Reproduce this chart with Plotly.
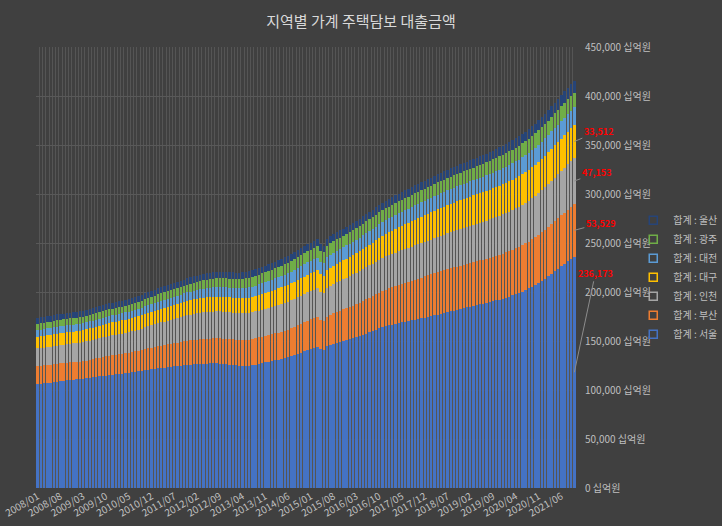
import plotly.graph_objects as go

# Monthly categories 2008/01 .. 2021/10
months = [f"{y}/{m:02d}" for y in range(2008, 2022) for m in range(1, 13)][:166]

# Values in 조원 (1,000 십억원)
seoul = [
    106.0, 106.4, 106.8, 107.2, 107.6, 108.0, 108.5, 109.0, 109.4, 109.8, 110.2, 110.5,
    110.8, 111.0, 111.4, 111.8, 112.3, 112.8, 113.3, 113.8, 114.3, 114.8, 115.2, 115.6,
    116.0, 116.4, 116.8, 117.3, 117.8, 118.3, 118.7, 119.2, 119.7, 120.2, 120.7, 121.2,
    121.6, 122.0, 122.4, 122.8, 123.2, 123.6, 124.0, 124.4, 124.8, 125.2, 125.6, 126.0,
    126.3, 126.5, 126.7, 126.9, 127.0, 127.1, 127.2, 127.2, 127.0, 126.7, 126.3, 125.9,
    125.5, 125.1, 124.8, 124.5, 124.6, 124.9, 125.4, 126.0, 126.7, 127.4, 128.1, 128.8,
    129.5, 130.3, 131.0, 131.8, 132.6, 133.4, 134.4, 135.5, 136.7, 138.0, 139.3, 140.6,
    141.6, 142.6, 143.6, 141.5, 140.8, 144.5, 146.0, 147.2, 148.3, 149.3, 150.2, 151.0,
    152.0, 153.0, 154.0, 155.2, 156.4, 157.6, 158.8, 160.0, 161.5, 163.0, 164.2, 165.2,
    166.0, 166.8, 167.6, 168.3, 169.0, 169.7, 170.4, 171.1, 171.8, 172.5, 173.2, 173.9,
    174.6, 175.4, 176.2, 177.0, 177.8, 178.6, 179.4, 180.2, 181.0, 181.8, 182.6, 183.4,
    184.2, 185.0, 185.7, 186.5, 187.3, 188.1, 188.9, 189.7, 190.5, 191.4, 192.3, 193.2,
    194.2, 195.3, 196.5, 197.8, 199.1, 200.5, 202.0, 203.6, 205.3, 207.2, 209.2, 211.3,
    213.6, 216.0, 218.5, 221.0, 223.6, 226.2, 228.8, 231.4, 233.8, 236.173]

busan = [
    18.4, 18.4, 18.3, 18.3, 18.2, 18.2, 18.2, 18.1, 18.1, 18.1, 18.0, 18.0,
    18.0, 18.0, 18.1, 18.3, 18.5, 18.7, 18.9, 19.1, 19.3, 19.5, 19.7, 19.9,
    20.0, 20.1, 20.2, 20.3, 20.4, 20.5, 20.7, 20.9, 21.1, 21.4, 21.7, 22.0,
    22.3, 22.6, 22.9, 23.1, 23.3, 23.5, 23.7, 23.9, 24.1, 24.3, 24.5, 24.7,
    24.9, 25.0, 25.1, 25.2, 25.3, 25.4, 25.5, 25.6, 25.7, 25.8, 25.9, 26.0,
    26.1, 26.2, 26.3, 26.4, 26.5, 26.6, 26.7, 26.8, 26.9, 27.0, 27.1, 27.2,
    27.3, 27.4, 27.6, 27.8, 28.0, 28.3, 28.6, 28.9, 29.2, 29.5, 29.8, 30.1,
    30.4, 30.6, 30.8, 30.0, 29.7, 30.4, 30.8, 31.1, 31.4, 31.7, 32.0, 32.4,
    32.8, 33.2, 33.6, 34.0, 34.4, 34.8, 35.2, 35.6, 36.0, 36.4, 36.8, 37.2,
    37.6, 38.0, 38.4, 38.8, 39.2, 39.6, 40.0, 40.4, 40.8, 41.2, 41.6, 42.0,
    42.3, 42.6, 42.9, 43.2, 43.4, 43.6, 43.8, 44.0, 44.1, 44.2, 44.3, 44.4,
    44.5, 44.6, 44.7, 44.8, 44.9, 45.0, 45.1, 45.2, 45.4, 45.6, 45.8, 46.0,
    46.2, 46.4, 46.6, 46.8, 47.0, 47.3, 47.6, 47.9, 48.3, 48.7, 49.1, 49.5,
    49.9, 50.3, 50.7, 51.1, 51.5, 51.9, 52.3, 52.7, 53.1, 53.529]

incheon = [
    18.0, 18.1, 18.2, 18.3, 18.4, 18.5, 18.6, 18.7, 18.8, 18.9, 19.0, 19.1,
    19.2, 19.3, 19.4, 19.5, 19.6, 19.7, 19.8, 19.9, 20.0, 20.1, 20.2, 20.3,
    20.4, 20.5, 20.6, 20.7, 20.8, 21.0, 21.3, 21.6, 21.9, 22.2, 22.5, 22.8,
    23.1, 23.4, 23.7, 24.0, 24.3, 24.6, 24.9, 25.2, 25.5, 25.8, 26.0, 26.2,
    26.4, 26.6, 26.8, 27.0, 27.2, 27.3, 27.4, 27.5, 27.5, 27.5, 27.5, 27.5,
    27.4, 27.4, 27.3, 27.3, 27.3, 27.4, 27.4, 27.5, 27.5, 27.6, 27.6, 27.7,
    27.8, 27.9, 28.0, 28.1, 28.2, 28.3, 28.4, 28.5, 28.6, 28.7, 28.8, 28.9,
    29.0, 29.2, 29.4, 28.8, 28.6, 29.3, 29.6, 29.9, 30.2, 30.5, 30.8, 31.1,
    31.4, 31.7, 32.0, 32.3, 32.6, 32.9, 33.1, 33.3, 33.5, 33.7, 33.9, 34.0,
    34.1, 34.2, 34.3, 34.4, 34.5, 34.6, 34.7, 34.8, 34.9, 35.0, 35.1, 35.2,
    35.3, 35.5, 35.7, 35.9, 36.1, 36.3, 36.5, 36.7, 36.9, 37.1, 37.3, 37.5,
    37.7, 37.9, 38.1, 38.3, 38.5, 38.7, 38.9, 39.1, 39.3, 39.5, 39.7, 39.9,
    40.1, 40.3, 40.5, 40.7, 40.9, 41.1, 41.3, 41.6, 41.9, 42.2, 42.6, 43.0,
    43.4, 43.8, 44.2, 44.6, 45.0, 45.4, 45.8, 46.3, 46.8, 47.153]

daegu = [
    11.9, 11.9, 12.0, 12.0, 12.0, 12.1, 12.1, 12.1, 12.0, 12.0, 12.0, 12.0,
    12.0, 12.1, 12.2, 12.3, 12.4, 12.5, 12.6, 12.7, 12.8, 12.9, 13.0, 13.1,
    13.2, 13.3, 13.4, 13.5, 13.6, 13.6, 13.7, 13.7, 13.8, 13.8, 13.9, 13.9,
    14.0, 14.0, 14.1, 14.1, 14.2, 14.2, 14.3, 14.4, 14.5, 14.6, 14.7, 14.8,
    14.9, 15.0, 15.0, 15.1, 15.1, 15.1, 15.1, 15.1, 15.0, 15.0, 15.0, 15.0,
    15.0, 15.0, 15.1, 15.2, 15.3, 15.4, 15.5, 15.7, 15.9, 16.1, 16.3, 16.5,
    16.7, 16.9, 17.0, 17.1, 17.2, 17.3, 17.4, 17.5, 17.6, 17.7, 17.8, 17.9,
    18.0, 18.1, 18.2, 17.7, 17.6, 18.2, 18.4, 18.6, 18.8, 19.0, 19.2, 19.4,
    19.6, 19.8, 20.0, 20.3, 20.6, 20.9, 21.2, 21.5, 21.8, 22.1, 22.4, 22.8,
    23.2, 23.6, 24.0, 24.4, 24.8, 25.2, 25.6, 26.0, 26.3, 26.6, 26.9, 27.2,
    27.5, 27.8, 28.0, 28.2, 28.4, 28.6, 28.8, 29.0, 29.2, 29.4, 29.6, 29.7,
    29.8, 29.9, 30.0, 30.1, 30.2, 30.3, 30.4, 30.5, 30.6, 30.7, 30.8, 30.9,
    31.0, 31.1, 31.2, 31.3, 31.4, 31.5, 31.6, 31.7, 31.8, 31.9, 32.0, 32.1,
    32.2, 32.4, 32.6, 32.8, 32.9, 33.0, 33.1, 33.2, 33.4, 33.512]

daejeon = [
    6.9, 6.9, 7.0, 7.0, 7.0, 7.0, 7.1, 7.1, 7.1, 7.1, 7.1, 7.1,
    7.1, 7.1, 7.1, 7.1, 7.2, 7.2, 7.2, 7.2, 7.2, 7.2, 7.3, 7.3,
    7.3, 7.3, 7.3, 7.3, 7.3, 7.3, 7.4, 7.5, 7.6, 7.7, 7.8, 7.9,
    8.0, 8.1, 8.1, 8.2, 8.2, 8.3, 8.3, 8.4, 8.5, 8.6, 8.7, 8.8,
    8.9, 9.0, 9.1, 9.2, 9.3, 9.4, 9.5, 9.6, 9.7, 9.8, 9.9, 10.0,
    10.0, 10.1, 10.1, 10.2, 10.3, 10.4, 10.5, 10.6, 10.7, 10.8, 10.9, 11.0,
    11.1, 11.3, 11.5, 11.6, 11.8, 12.0, 12.1, 12.3, 12.4, 12.6, 12.7, 12.9,
    13.0, 13.1, 13.2, 12.9, 12.8, 13.2, 13.3, 13.4, 13.4, 13.5, 13.5, 13.6,
    13.6, 13.7, 13.7, 13.8, 13.8, 13.9, 13.9, 14.0, 14.0, 14.1, 14.1, 14.2,
    14.2, 14.3, 14.3, 14.4, 14.4, 14.5, 14.5, 14.6, 14.6, 14.7, 14.7, 14.8,
    14.8, 14.9, 14.9, 15.0, 15.0, 15.1, 15.1, 15.2, 15.2, 15.3, 15.3, 15.4,
    15.4, 15.5, 15.5, 15.6, 15.6, 15.7, 15.8, 15.9, 16.0, 16.1, 16.2, 16.3,
    16.4, 16.5, 16.6, 16.7, 16.8, 16.9, 17.0, 17.1, 17.2, 17.3, 17.4, 17.5,
    17.6, 17.7, 17.8, 17.8, 17.9, 17.9, 18.0, 18.0, 18.0, 18.0]

gwangju = [
    6.5, 6.5, 6.5, 6.5, 6.6, 6.6, 6.6, 6.6, 6.6, 6.7, 6.7, 6.7,
    6.7, 6.7, 6.7, 6.8, 6.8, 6.8, 6.8, 6.8, 6.8, 6.9, 6.9, 6.9,
    6.9, 6.9, 6.9, 7.0, 7.0, 7.0, 7.0, 7.1, 7.1, 7.2, 7.2, 7.3,
    7.3, 7.4, 7.4, 7.5, 7.5, 7.6, 7.6, 7.7, 7.8, 7.9, 8.0, 8.1,
    8.2, 8.3, 8.4, 8.5, 8.6, 8.7, 8.8, 8.9, 9.0, 9.1, 9.2, 9.3,
    9.4, 9.5, 9.6, 9.7, 9.8, 9.8, 9.9, 9.9, 10.0, 10.0, 10.1, 10.1,
    10.2, 10.3, 10.4, 10.5, 10.6, 10.7, 10.8, 10.9, 11.0, 11.1, 11.1, 11.2,
    11.3, 11.3, 11.4, 11.1, 11.0, 11.4, 11.5, 11.5, 11.6, 11.6, 11.7, 11.7,
    11.7, 11.8, 11.8, 11.8, 11.9, 11.9, 11.9, 12.0, 12.0, 12.0, 12.0, 12.1,
    12.1, 12.1, 12.1, 12.2, 12.2, 12.2, 12.2, 12.3, 12.3, 12.3, 12.3, 12.4,
    12.4, 12.4, 12.5, 12.5, 12.5, 12.6, 12.6, 12.7, 12.7, 12.8, 12.8, 12.9,
    12.9, 13.0, 13.0, 13.1, 13.2, 13.3, 13.4, 13.5, 13.6, 13.7, 13.7, 13.8,
    13.9, 13.9, 14.0, 14.1, 14.2, 14.3, 14.4, 14.5, 14.6, 14.6, 14.7, 14.7,
    14.8, 14.8, 14.8, 14.9, 14.9, 14.9, 15.0, 15.0, 15.0, 15.0]

ulsan = [
    5.9, 5.9, 6.0, 6.0, 6.0, 6.0, 6.0, 6.0, 6.0, 6.0, 6.0, 6.0,
    6.0, 6.0, 6.0, 6.0, 6.0, 6.0, 6.0, 6.0, 6.0, 6.0, 6.0, 6.0,
    6.0, 6.0, 6.0, 6.0, 6.0, 6.0, 6.1, 6.1, 6.1, 6.1, 6.1, 6.1,
    6.2, 6.2, 6.2, 6.2, 6.2, 6.3, 6.3, 6.3, 6.3, 6.3, 6.4, 6.4,
    6.4, 6.4, 6.4, 6.5, 6.5, 6.5, 6.5, 6.5, 6.5, 6.6, 6.6, 6.6,
    6.6, 6.6, 6.6, 6.7, 6.7, 6.7, 6.7, 6.7, 6.8, 6.8, 6.8, 6.8,
    6.8, 6.8, 6.8, 6.9, 6.9, 6.9, 6.9, 6.9, 6.9, 7.0, 7.0, 7.0,
    7.0, 7.0, 7.0, 6.8, 6.8, 7.0, 7.1, 7.1, 7.1, 7.2, 7.2, 7.2,
    7.3, 7.3, 7.3, 7.4, 7.4, 7.4, 7.5, 7.5, 7.5, 7.6, 7.6, 7.6,
    7.7, 7.7, 7.8, 7.8, 7.8, 7.9, 7.9, 7.9, 8.0, 8.0, 8.0, 8.1,
    8.1, 8.1, 8.2, 8.2, 8.2, 8.3, 8.3, 8.4, 8.4, 8.4, 8.5, 8.5,
    8.5, 8.6, 8.6, 8.7, 8.7, 8.8, 8.8, 8.9, 8.9, 9.0, 9.0, 9.1,
    9.1, 9.2, 9.3, 9.4, 9.5, 9.6, 9.7, 9.8, 9.9, 10.0, 10.1, 10.2,
    10.4, 10.6, 10.8, 11.0, 11.2, 11.4, 11.6, 11.8, 11.9, 12.0]

regions = ["서울", "부산", "인천", "대구", "대전", "광주", "울산"]
series = [seoul, busan, incheon, daegu, daejeon, gwangju, ulsan]
colors = ["#4472C4", "#ED7D31", "#A5A5A5", "#FFC000", "#5B9BD5", "#70AD47", "#264478"]
labelled = ["서울", "부산", "인천", "대구"]

FONT = "Noto Sans CJK KR"
TXT = "#bfbfbf"
BG = "#404040"

xs = list(range(len(months)))
vals = [[round(v * 1000) for v in s] for s in series]

fig = go.Figure()
for name, v, c in zip(regions, vals, colors):
    fig.add_trace(go.Bar(x=xs, y=v, name=f"합계 : {name}", marker=dict(color=c, line=dict(width=0)),
                         showlegend=False, hovertemplate="%{y:,}"))

# legend entries (hollow squares), top to bottom as in the reference
for name, c in reversed(list(zip(regions, colors))):
    fig.add_trace(go.Scatter(x=[None], y=[None], mode="markers", name=f"합계 : {name}",
                             marker=dict(symbol="square-open", size=8, color=c, line=dict(width=1.5))))

# data labels on last bar
offsets = {"서울": (21, -99), "부산": (26, -7), "인천": (22, -8), "대구": (24, -10)}
cum = 0
last = xs[-1]
for name, v in zip(regions, vals):
    val = v[-1]
    if name in labelled:
        ax, ay = offsets[name]
        fig.add_annotation(x=last, y=cum + val / 2, text=f"<b>{val:,}</b>", showarrow=True,
                           ax=ax, ay=ay, arrowhead=0, arrowwidth=1, arrowcolor="#8c8c8c",
                           standoff=0, font=dict(family=FONT, size=9, color="#ff0000"))
    cum += val

fig.update_layout(
    width=722, height=526,
    paper_bgcolor=BG, plot_bgcolor=BG,
    barmode="stack", bargap=0.28,
    margin=dict(l=36, r=146, t=47, b=38, autoexpand=False),
    title=dict(text="지역별 가계 주택담보 대출금액", x=0.5, xanchor="center", y=0.958, yanchor="middle",
               font=dict(family=FONT, size=15, color="#d9d9d9")),
    font=dict(family=FONT, color=TXT),
    legend=dict(x=1.106, xanchor="left", y=0.64, yanchor="top", traceorder="normal",
                font=dict(family=FONT, size=10, color=TXT), bgcolor="rgba(0,0,0,0)",
                itemwidth=30, tracegroupgap=0),
    showlegend=True,
)
fig.update_xaxes(
    range=[-0.5, len(months) - 0.5],
    tickmode="array", tickvals=xs[::7], ticktext=months[::7], tickangle=-30,
    tickfont=dict(family=FONT, size=10, color=TXT),
    showgrid=False, zeroline=False, showline=False, ticks="", automargin=False,
    minor=dict(dtick=1, tick0=0.5, showgrid=True, gridcolor="#555555", gridwidth=1),
)
fig.update_yaxes(
    side="right", range=[0, 450000], dtick=50000, tickformat=",", ticksuffix=" 십억원",
    tickfont=dict(family=FONT, size=10, color=TXT), automargin=False,
    showgrid=True, gridcolor="#595959", gridwidth=1, zeroline=False, showline=False,
    ticks="", ticklabelstandoff=8,
)

fig.write_html("out.html")
